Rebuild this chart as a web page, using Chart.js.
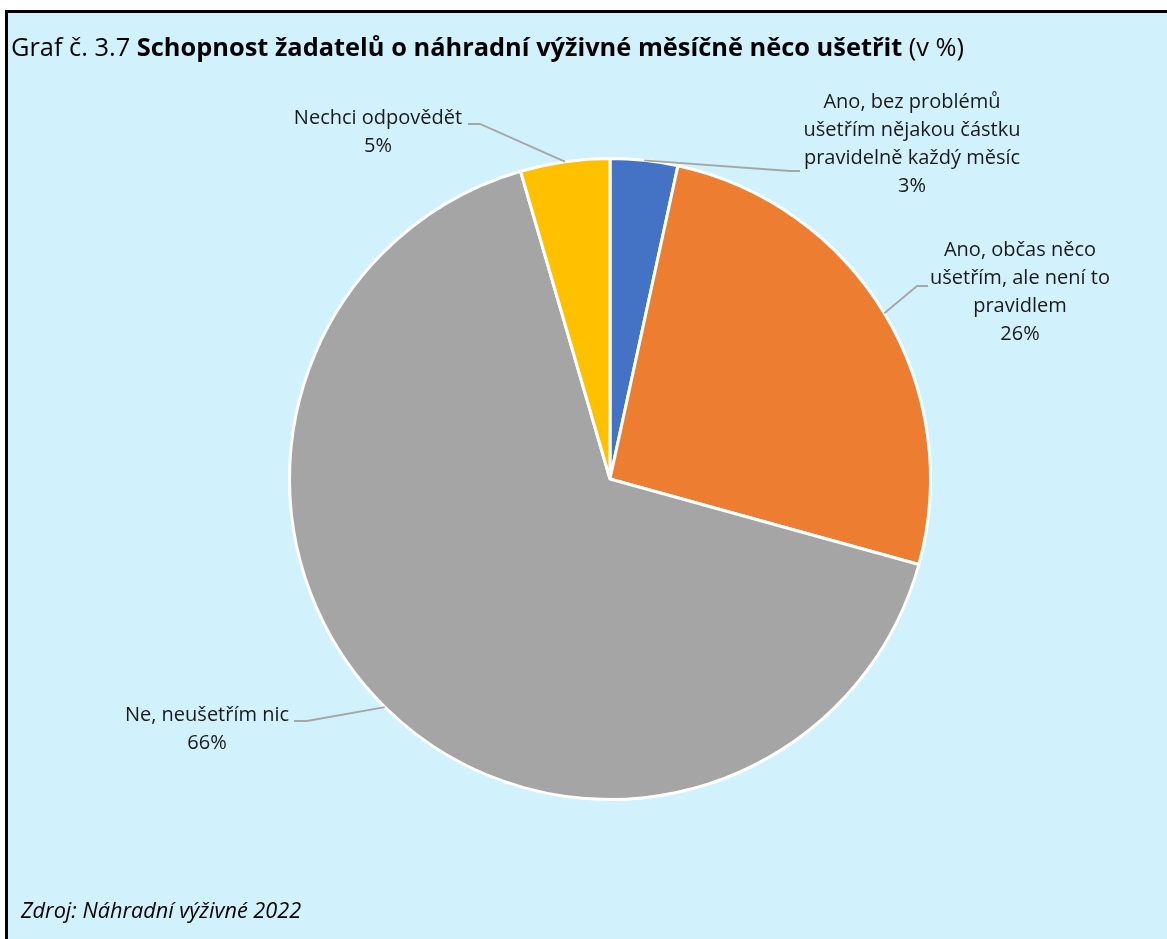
<!DOCTYPE html>
<html>
<head>
<meta charset="utf-8">
<script src="https://cdn.jsdelivr.net/npm/chart.js@4/dist/chart.umd.min.js"></script>
<style>
  html, body { margin: 0; padding: 0; background: #fff; }
  canvas { display: block; }
</style>
</head>
<body>
<canvas id="pieChart" width="1167" height="939"></canvas>
<script>
// data
const categories = [
  ['Ano, bez problémů', 'ušetřím nějakou částku', 'pravidelně každý měsíc'],
  ['Ano, občas něco', 'ušetřím, ale není to', 'pravidlem'],
  ['Ne, neušetřím nic'],
  ['Nechci odpovědět']
];
const shares = [3.4, 25.9, 66.2, 4.5];
const sliceColors = ['#4472C4', '#ED7D31', '#A5A5A5', '#FFC000'];

const titleParts = [
  { text: 'Graf č. 3.7 ', bold: false },
  { text: 'Schopnost žadatelů o náhradní výživné měsíčně něco ušetřit', bold: true },
  { text: ' (v %)', bold: false }
];
const sourceText = 'Zdroj: Náhradní výživné 2022';

// where each data label sits (text centre, first line) and its leader line bend
const labelSpots = [
  { x: 912, y: 102, bend: [790, 171], end: [800, 171] },
  { x: 1020, y: 250, bend: [917, 286], end: [928, 286] },
  { x: 207, y: 715, bend: [307, 721], end: [294, 721] },
  { x: 378, y: 118, bend: [480, 124], end: [468, 124] }
];

const FONT = '"Open Sans", "Noto Sans", sans-serif';

// background, frame, title and source
const framePlugin = {
  id: 'frame',
  beforeDraw(chart) {
    const ctx = chart.ctx;
    const w = chart.width, h = chart.height;
    ctx.save();
    ctx.fillStyle = '#ffffff';
    ctx.fillRect(0, 0, w, h);
    ctx.fillStyle = '#d1f1fd';
    ctx.fillRect(5, 10, w - 5, h - 10);
    ctx.fillStyle = '#000000';
    ctx.fillRect(5, 10, w - 5, 3);
    ctx.fillRect(5, 10, 3, h - 10);

    ctx.fillStyle = '#000000';
    ctx.textBaseline = 'alphabetic';
    ctx.textAlign = 'left';
    let x = 11;
    titleParts.forEach(p => {
      ctx.font = (p.bold ? 'bold ' : '') + '25.4px ' + FONT;
      ctx.fillText(p.text, x, 56);
      x += ctx.measureText(p.text).width;
    });

    ctx.font = 'italic 21.7px ' + FONT;
    ctx.fillText(sourceText, 21, 918);
    ctx.restore();
  }
};

// data labels with leader lines
const labelPlugin = {
  id: 'pieLabels',
  afterDatasetsDraw(chart) {
    const ctx = chart.ctx;
    const meta = chart.getDatasetMeta(0);
    const total = shares.reduce((a, b) => a + b, 0);
    ctx.save();
    meta.data.forEach((arc, i) => {
      const p = arc.getProps(['x', 'y', 'startAngle', 'endAngle', 'outerRadius'], true);
      const mid = (p.startAngle + p.endAngle) / 2;
      const sx = p.x + Math.cos(mid) * p.outerRadius;
      const sy = p.y + Math.sin(mid) * p.outerRadius;
      const spot = labelSpots[i];

      ctx.strokeStyle = '#a6a6a6';
      ctx.lineWidth = 1.8;
      ctx.beginPath();
      ctx.moveTo(sx, sy);
      ctx.lineTo(spot.bend[0], spot.bend[1]);
      ctx.lineTo(spot.end[0], spot.end[1]);
      ctx.stroke();

      const lines = categories[i].concat([Math.round(shares[i] / total * 100) + '%']);
      ctx.fillStyle = '#1a1a1a';
      ctx.font = '20px ' + FONT;
      ctx.textAlign = 'center';
      ctx.textBaseline = 'middle';
      lines.forEach((t, k) => ctx.fillText(t, spot.x, spot.y + k * 28));
    });
    ctx.restore();
  }
};

new Chart(document.getElementById('pieChart').getContext('2d'), {
  type: 'pie',
  data: {
    labels: categories,
    datasets: [{
      data: shares,
      backgroundColor: sliceColors,
      borderColor: '#ffffff',
      borderWidth: 3
    }]
  },
  options: {
    responsive: false,
    animation: false,
    layout: { padding: { left: 288, right: 235, top: 157, bottom: 138 } },
    plugins: {
      legend: { display: false },
      tooltip: { enabled: false }
    }
  },
  plugins: [framePlugin, labelPlugin]
});
</script>
</body>
</html>
